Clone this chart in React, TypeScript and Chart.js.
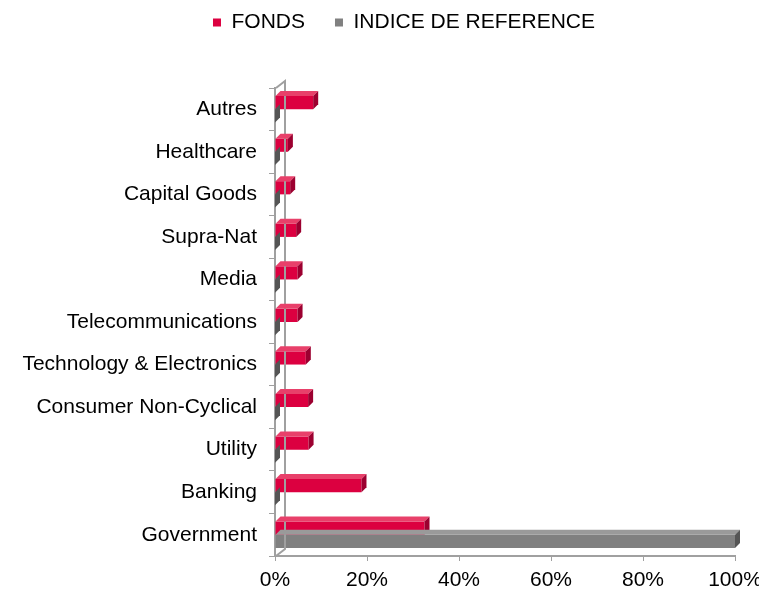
import React, { useEffect, useRef } from "react";
import { Chart, registerables } from "chart.js";

Chart.register(...registerables);

const categories = [
  "Autres",
  "Healthcare",
  "Capital Goods",
  "Supra-Nat",
  "Media",
  "Telecommunications",
  "Technology & Electronics",
  "Consumer Non-Cyclical",
  "Utility",
  "Banking",
  "Government",
];
const fonds = [8.3, 2.8, 3.3, 4.6, 4.9, 4.9, 6.7, 7.2, 7.3, 18.8, 32.5];
const indice = [0, 0, 0, 0, 0, 0, 0, 0, 0, 0, 100];
const xTicks = [0, 20, 40, 60, 80, 100];

const RED = "#DC0040";
const RED_DARK = "#9C0030";
const GREY = "#808080";
const GREY_DARK = "#555555";
const DEPTH = 5;

const legendGap = {
  id: "legendGap",
  beforeInit(chart: any) {
    const legend = chart.legend;
    if (!legend) return;
    const orig = legend.fit;
    legend.fit = function () {
      orig.call(this);
      this.height = 88;
    };
  },
  afterLayout(chart: any) {
    const legend = chart.legend;
    if (!legend) return;
    legend.left += 36.5;
    legend.right += 36.5;
    legend.top -= 18;
  },
};

const bar3d = {
  id: "bar3d",
  afterDatasetsDraw(chart: any) {
    const ctx = chart.ctx;
    const area = chart.chartArea;
    ctx.save();
    ctx.strokeStyle = "#A0A0A0";
    ctx.lineWidth = 2;
    ctx.beginPath();
    ctx.moveTo(area.left + 1, area.top);
    ctx.lineTo(area.left + 1 + 9, area.top - 7);
    ctx.lineTo(area.left + 1 + 9, area.bottom - 7);
    ctx.lineTo(area.left + 1, area.bottom);
    ctx.stroke();
    chart.data.datasets.forEach((ds: any, di: number) => {
      const meta = chart.getDatasetMeta(di);
      const dark = di === 0 ? RED_DARK : GREY_DARK;
      meta.data.forEach((el: any) => {
        const p = el.getProps(["x", "y", "base", "height"], true);
        const top = p.y - p.height / 2;
        const bot = p.y + p.height / 2;
        const left = p.base;
        const right = p.x;
        ctx.fillStyle = di === 0 ? "#E8406A" : "#9A9A9A";
        ctx.beginPath();
        ctx.moveTo(left, top);
        ctx.lineTo(left + DEPTH, top - DEPTH);
        ctx.lineTo(right + DEPTH, top - DEPTH);
        ctx.lineTo(right, top);
        ctx.closePath();
        ctx.fill();
        ctx.fillStyle = dark;
        ctx.beginPath();
        ctx.moveTo(right, top);
        ctx.lineTo(right + DEPTH, top - DEPTH);
        ctx.lineTo(right + DEPTH, bot - DEPTH);
        ctx.lineTo(right, bot);
        ctx.closePath();
        ctx.fill();
      });
    });
    ctx.restore();
  },
};

export default function App() {
  const ref = useRef<HTMLCanvasElement>(null);
  useEffect(() => {
    if (!ref.current) return;
    const font = { family: "'Liberation Sans', Arial, sans-serif", size: 21 };
    const chart = new Chart(ref.current, {
      type: "bar",
      data: {
        labels: categories,
        datasets: [
          {
            label: "FONDS",
            data: fonds,
            backgroundColor: RED,
            categoryPercentage: 0.62,
            barPercentage: 1,
          },
          {
            label: "INDICE DE REFERENCE",
            data: indice,
            backgroundColor: GREY,
            categoryPercentage: 0.62,
            barPercentage: 1,
          },
        ],
      },
      options: {
        indexAxis: "y",
        animation: false,
        responsive: false,
        layout: { padding: { left: 0, right: 24, top: 0, bottom: 0 } },
        plugins: {
          legend: {
            position: "top",
            labels: {
              font,
              color: "#000",
              boxWidth: 8,
              boxHeight: 8,
              padding: 30,
            },
          },
          tooltip: { enabled: false },
        },
        scales: {
          x: {
            min: 0,
            max: 100,
            afterBuildTicks: (s: any) => {
              s.ticks = xTicks.map((v) => ({ value: v }));
            },
            afterFit: (s: any) => {
              s.paddingRight = 0;
              s.paddingLeft = 0;
              s.height = 38;
            },
            ticks: {
              font,
              color: "#000",
              callback: (v: any) => v + "%",
              padding: 7,
              maxRotation: 0,
            },
            grid: { drawOnChartArea: false, color: "#A0A0A0", tickLength: 5 },
            border: { color: "#A0A0A0", width: 2 },
          },
          y: {
            afterFit: (s: any) => {
              s.width = 275;
            },
            ticks: { font, color: "#000", padding: 12 },
            grid: {
              drawOnChartArea: false,
              color: "#A0A0A0",
              tickLength: 6,
              offset: true,
            },
            border: { color: "#A0A0A0", width: 2 },
          },
        },
      },
      plugins: [legendGap, bar3d],
    });
    return () => chart.destroy();
  }, []);
  return (
    <div style={{ position: "fixed", left: 0, top: 0, width: 759, height: 594 }}>
      <canvas ref={ref} width={759} height={594} style={{ width: 759, height: 594 }} />
    </div>
  );
}
